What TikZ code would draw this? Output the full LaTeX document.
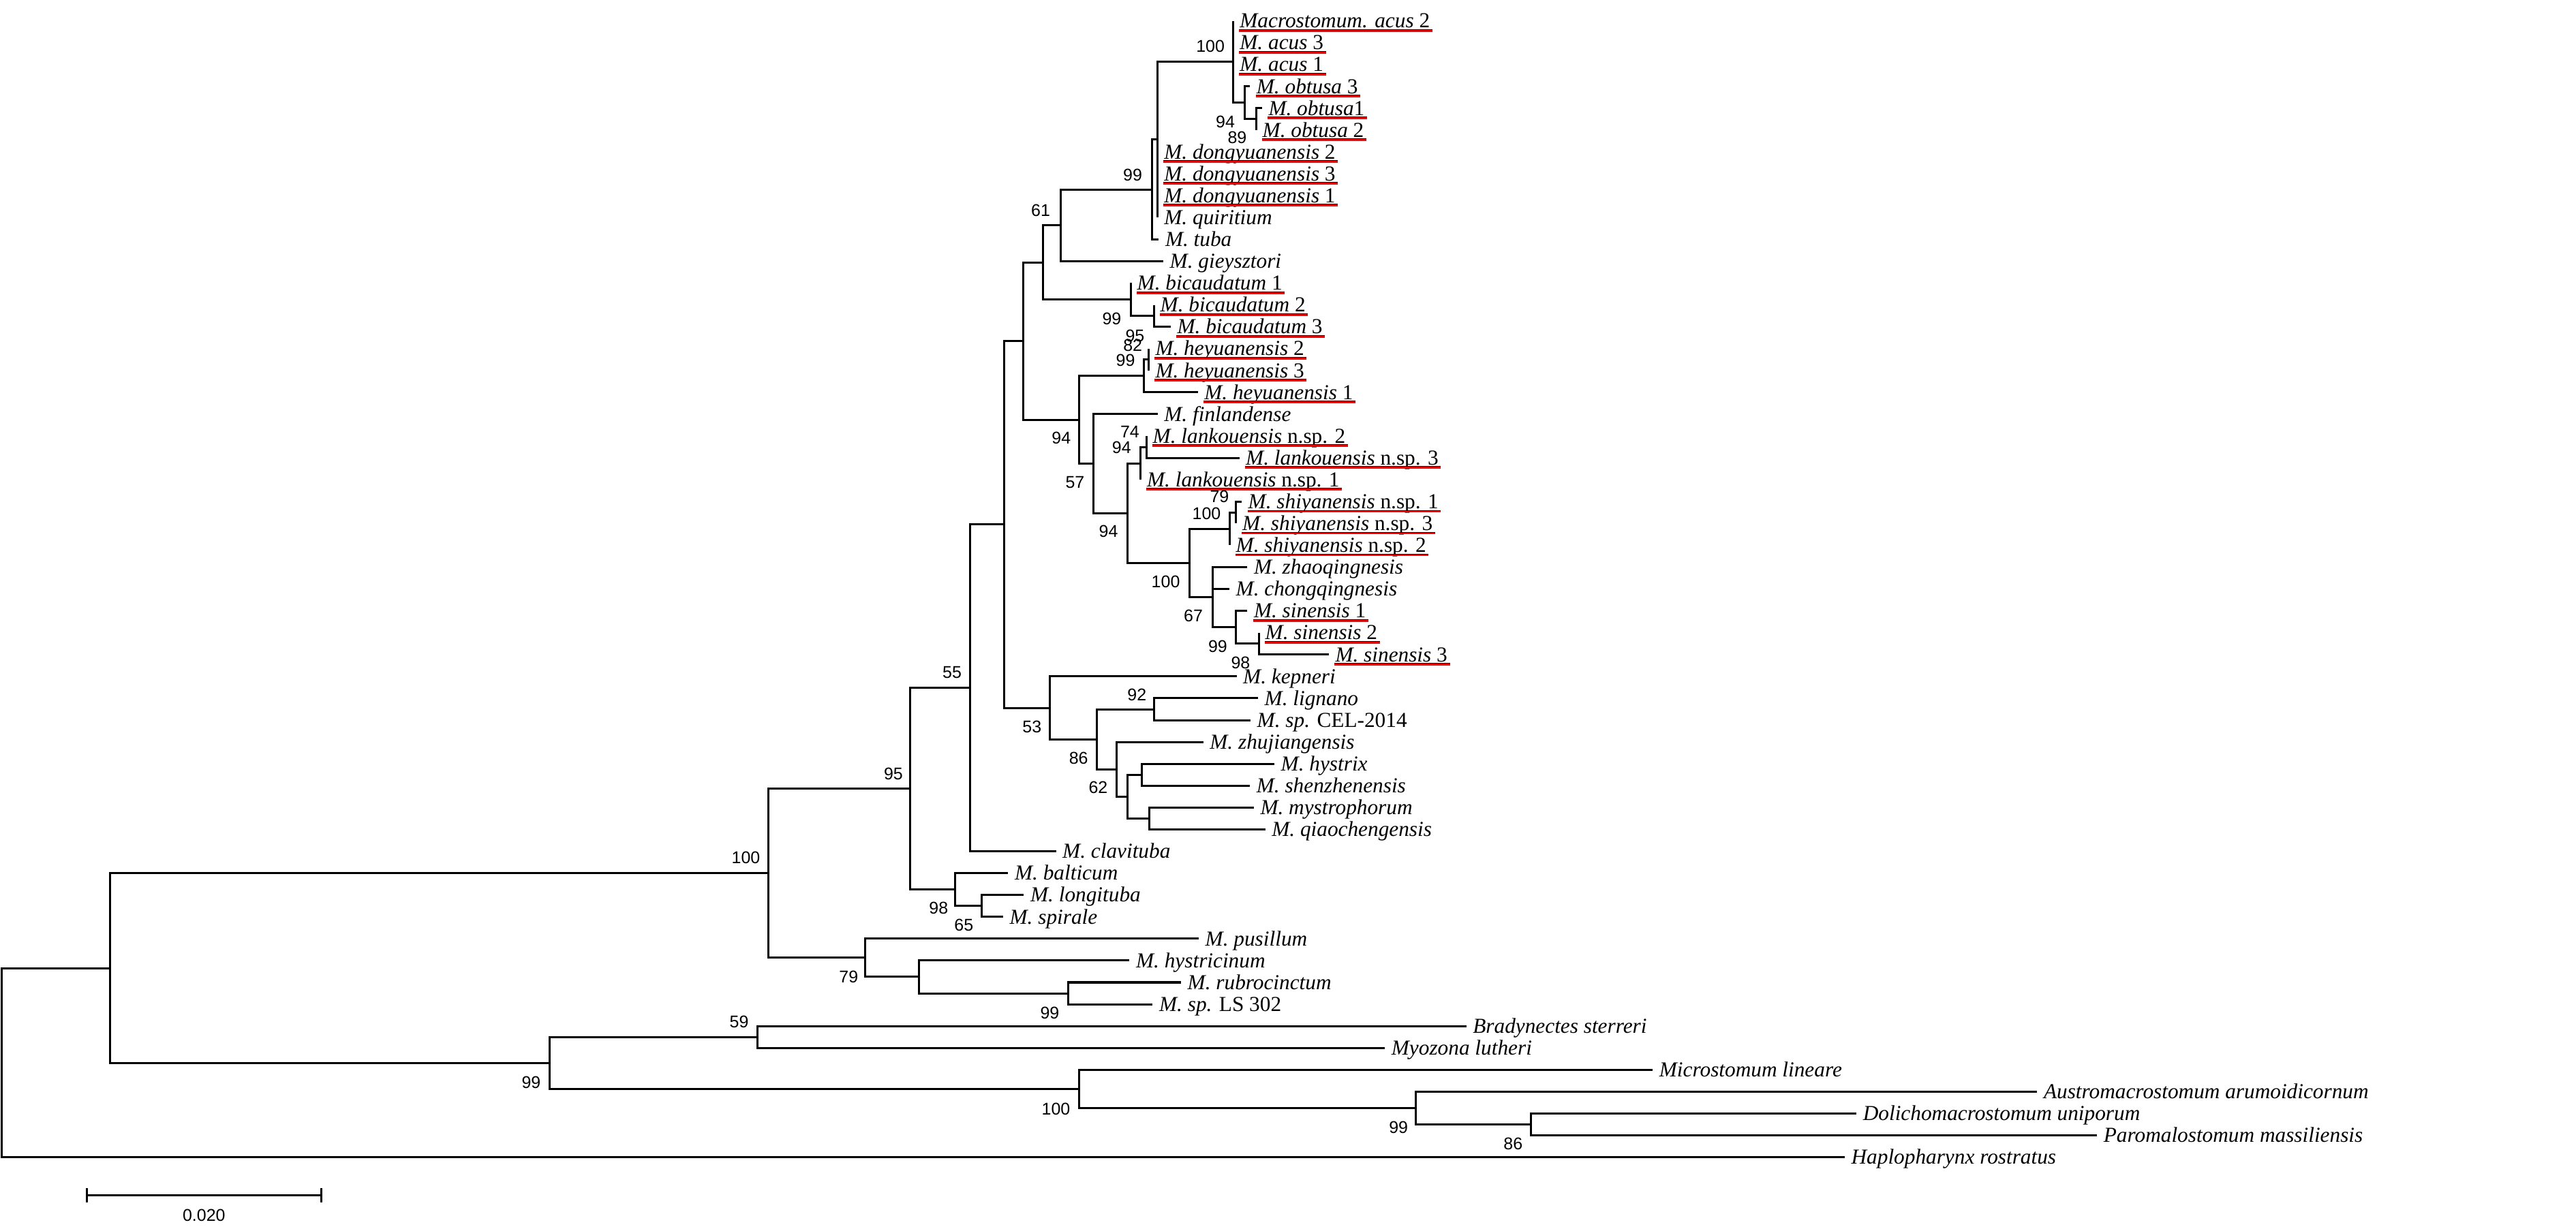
\documentclass[tikz,border=0pt]{standalone}
\usepackage{fontspec}
\setmainfont{Liberation Serif}
\newfontfamily\bsfont{Liberation Sans}
\usetikzlibrary{arrows.meta,positioning}

\begin{document}
\begin{tikzpicture}[
  x=0.01cm, y=-0.3206cm,
  branch/.style={line width=0.03cm},
  taxon/.style={anchor=west, inner xsep=0.09cm, inner ysep=0, text height=0.205cm, text depth=0, font=\fontsize{8.9}{10}\selectfont\itshape},
  bs/.style={inner sep=0, text height=0.18cm, text depth=0, font=\bsfont\fontsize{7.1}{8}\selectfont},
  redline/.style={draw=red, line width=0.03cm},
  thinline/.style={draw=black, line width=0.01cm},
  scalebar/.style={line width=0.03cm, {Bar[width=0.21cm]}-{Bar[width=0.21cm]}}
]
  \useasboundingbox (0,-0.9513) rectangle (3780,55.256);

  \coordinate (root) at (2.5,47.67);
  \coordinate (nIn) at (161.7,43.347);
  \coordinate (n100) at (1127.5,39.006);
  \coordinate (n95) at (1335.9,35.137);
  \coordinate (n55) at (1423.1,30.52);
  \coordinate (nX) at (1473.2,23.047);
  \coordinate (nUp) at (1501.7,14.657);
  \coordinate (nB) at (1530,11.055);
  \coordinate (n61) at (1556.7,9.359);
  \coordinate (nTuba) at (1690.7,7.719);
  \coordinate (nDong) at (1698.7,5.4375);
  \coordinate (nAcus) at (1809.7,1.875);
  \coordinate (nObt) at (1826.6,3.75);
  \coordinate (nObt12) at (1843,4.5);
  \coordinate (nBic) at (1659,12.75);
  \coordinate (nBic23) at (1693,13.5);
  \coordinate (n94a) at (1583.9,18.258);
  \coordinate (nHey) at (1678.6,16.25);
  \coordinate (nHey23) at (1685.8,15.5);
  \coordinate (n57) at (1604.5,20.266);
  \coordinate (n94b) at (1654.2,22.53);
  \coordinate (nLank) at (1673.4,20.25);
  \coordinate (nLank23) at (1682,19.5);
  \coordinate (nSh) at (1745.1,24.8125);
  \coordinate (nShi2) at (1804,23.25);
  \coordinate (nShi13) at (1813.5,22.5);
  \coordinate (nZc) at (1779,26.375);
  \coordinate (nSin) at (1813.5,27.75);
  \coordinate (nSin23) at (1847,28.5);
  \coordinate (n53) at (1540.9,31.4375);
  \coordinate (n92) at (1693.9,31.5);
  \coordinate (n86) at (1609.3,32.875);
  \coordinate (n62) at (1638,34.25);
  \coordinate (nHs) at (1654.7,35.5);
  \coordinate (nHyst) at (1675.8,34.5);
  \coordinate (nMq) at (1686.8,36.5);
  \coordinate (nBal) at (1401.9,39.75);
  \coordinate (nLs) at (1440.4,40.5);
  \coordinate (n79) at (1269.9,42.875);
  \coordinate (nHr) at (1348.5,43.75);
  \coordinate (nRl) at (1567,44.5);
  \coordinate (nOut) at (806,47.6875);
  \coordinate (n59) at (1111.1,46.5);
  \coordinate (nMic) at (1583.6,48.875);
  \coordinate (nAdp) at (2077.8,49.75);
  \coordinate (nDp) at (2246.9,50.5);

  \node[taxon] (acus2) at (1809.7,0) {Macrostomum. acus \textup{2}};
  \node[taxon] (acus3) at (1809.7,1) {M. acus \textup{3}};
  \node[taxon] (acus1) at (1809.7,2) {M. acus \textup{1}};
  \node[taxon] (obt3) at (1834.2,3) {M. obtusa \textup{3}};
  \node[taxon] (obt1) at (1851.8,4) {M. obtusa\textup{1}};
  \node[taxon] (obt2) at (1843,5) {M. obtusa \textup{2}};
  \node[taxon] (dong2) at (1698.7,6) {M. dongyuanensis \textup{2}};
  \node[taxon] (dong3) at (1698.7,7) {M. dongyuanensis \textup{3}};
  \node[taxon] (dong1) at (1698.7,8) {M. dongyuanensis \textup{1}};
  \node[taxon] (quir) at (1698.7,9) {M. quiritium};
  \node[taxon] (tuba) at (1700.3,10) {M. tuba};
  \node[taxon] (giey) at (1707,11) {M. gieysztori};
  \node[taxon] (bic1) at (1659,12) {M. bicaudatum \textup{1}};
  \node[taxon] (bic2) at (1693,13) {M. bicaudatum \textup{2}};
  \node[taxon] (bic3) at (1717.9,14) {M. bicaudatum \textup{3}};
  \node[taxon] (hey2) at (1685.8,15) {M. heyuanensis \textup{2}};
  \node[taxon] (hey3) at (1685.8,16) {M. heyuanensis \textup{3}};
  \node[taxon] (hey1) at (1757.6,17) {M. heyuanensis \textup{1}};
  \node[taxon] (finl) at (1698.7,18) {M. finlandense};
  \node[taxon] (lank2) at (1682,19) {M. lankouensis \textup{n.sp. 2}};
  \node[taxon] (lank3) at (1818.5,20) {M. lankouensis \textup{n.sp. 3}};
  \node[taxon] (lank1) at (1673.4,21) {M. lankouensis \textup{n.sp. 1}};
  \node[taxon] (shi1) at (1822,22) {M. shiyanensis \textup{n.sp. 1}};
  \node[taxon] (shi3) at (1813.5,23) {M. shiyanensis \textup{n.sp. 3}};
  \node[taxon] (shi2) at (1804,24) {M. shiyanensis \textup{n.sp. 2}};
  \node[taxon] (zhao) at (1830.3,25) {M. zhaoqingnesis};
  \node[taxon] (chong) at (1804,26) {M. chongqingnesis};
  \node[taxon] (sin1) at (1830.3,27) {M. sinensis \textup{1}};
  \node[taxon] (sin2) at (1847,28) {M. sinensis \textup{2}};
  \node[taxon] (sin3) at (1949.8,29) {M. sinensis \textup{3}};
  \node[taxon] (kep) at (1814.5,30) {M. kepneri};
  \node[taxon] (lign) at (1846,31) {M. lignano};
  \node[taxon] (cel) at (1835,32) {M. sp. \textup{CEL-2014}};
  \node[taxon] (zhuj) at (1765.7,33) {M. zhujiangensis};
  \node[taxon] (hystx) at (1870,34) {M. hystrix};
  \node[taxon] (shen) at (1834.1,35) {M. shenzhenensis};
  \node[taxon] (myst) at (1839.8,36) {M. mystrophorum};
  \node[taxon] (qiao) at (1856.6,37) {M. qiaochengensis};
  \node[taxon] (clav) at (1549.5,38) {M. clavituba};
  \node[taxon] (balt) at (1479.4,39) {M. balticum};
  \node[taxon] (long) at (1502.4,40) {M. longituba};
  \node[taxon] (spir) at (1471.9,41) {M. spirale};
  \node[taxon] (pusi) at (1759,42) {M. pusillum};
  \node[taxon] (hysc) at (1657.4,43) {M. hystricinum};
  \node[taxon] (rubr) at (1733,44) {M. rubrocinctum};
  \node[taxon] (ls) at (1691.4,45) {M. sp. \textup{LS 302}};
  \node[taxon] (brad) at (2151.6,46) {Bradynectes sterreri};
  \node[taxon] (myoz) at (2032.2,47) {Myozona lutheri};
  \node[taxon] (micr) at (2425.2,48) {Microstomum lineare};
  \node[taxon] (aust) at (2989.3,49) {Austromacrostomum arumoidicornum};
  \node[taxon] (doli) at (2724.1,50) {Dolichomacrostomum uniporum};
  \node[taxon] (paro) at (3077.1,51) {Paromalostomum massiliensis};
  \node[taxon] (hapl) at (2706.9,52) {Haplopharynx rostratus};

  \draw[branch] (root) |- (nIn) (root) |- (hapl.west);
  \draw[branch] (nIn) |- (n100) (nIn) |- (nOut);
  \draw[branch] (n100) |- (n95) (n100) |- (n79);
  \draw[branch] (n95) |- (n55) (n95) |- (nBal);
  \draw[branch] (n55) |- (nX) (n55) |- (clav.west);
  \draw[branch] (nX) |- (nUp) (nX) |- (n53);
  \draw[branch] (nUp) |- (nB) (nUp) |- (n94a);
  \draw[branch] (nB) |- (n61) (nB) |- (nBic);
  \draw[branch] (n61) |- (nTuba) (n61) |- (giey.west);
  \draw[branch] (nTuba) |- (nDong) (nTuba) |- (tuba.west);
  \draw[branch] (nDong) |- (nAcus) (nDong) |- (dong2.west) (nDong) |- (dong3.west)
    (nDong) |- (dong1.west) (nDong) |- (quir.west);
  \draw[branch] (nAcus) |- (acus2.west) (nAcus) |- (acus3.west) (nAcus) |- (acus1.west)
    (nAcus) |- (nObt);
  \draw[branch] (nObt) |- (obt3.west) (nObt) |- (nObt12);
  \draw[branch] (nObt12) |- (obt1.west) (nObt12) |- (obt2.west);
  \draw[branch] (nBic) |- (bic1.west) (nBic) |- (nBic23);
  \draw[branch] (nBic23) |- (bic2.west) (nBic23) |- (bic3.west);
  \draw[branch] (n94a) |- (nHey) (n94a) |- (n57);
  \draw[branch] (nHey) |- (nHey23) (nHey) |- (hey1.west);
  \draw[branch] (nHey23) |- (hey2.west) (nHey23) |- (hey3.west);
  \draw[branch] (n57) |- (finl.west) (n57) |- (n94b);
  \draw[branch] (n94b) |- (nLank) (n94b) |- (nSh);
  \draw[branch] (nLank) |- (nLank23) (nLank) |- (lank1.west);
  \draw[branch] (nLank23) |- (lank2.west) (nLank23) |- (lank3.west);
  \draw[branch] (nSh) |- (nShi2) (nSh) |- (nZc);
  \draw[branch] (nShi2) |- (nShi13) (nShi2) |- (shi2.west);
  \draw[branch] (nShi13) |- (shi1.west) (nShi13) |- (shi3.west);
  \draw[branch] (nZc) |- (zhao.west) (nZc) |- (chong.west) (nZc) |- (nSin);
  \draw[branch] (nSin) |- (sin1.west) (nSin) |- (nSin23);
  \draw[branch] (nSin23) |- (sin2.west) (nSin23) |- (sin3.west);
  \draw[branch] (n53) |- (kep.west) (n53) |- (n86);
  \draw[branch] (n86) |- (n92) (n86) |- (n62);
  \draw[branch] (n92) |- (lign.west) (n92) |- (cel.west);
  \draw[branch] (n62) |- (zhuj.west) (n62) |- (nHs);
  \draw[branch] (nHs) |- (nHyst) (nHs) |- (nMq);
  \draw[branch] (nHyst) |- (hystx.west) (nHyst) |- (shen.west);
  \draw[branch] (nMq) |- (myst.west) (nMq) |- (qiao.west);
  \draw[branch] (nBal) |- (balt.west) (nBal) |- (nLs);
  \draw[branch] (nLs) |- (long.west) (nLs) |- (spir.west);
  \draw[branch] (n79) |- (pusi.west) (n79) |- (nHr);
  \draw[branch] (nHr) |- (hysc.west) (nHr) |- (nRl);
  \draw[branch] (nRl) |- (rubr.west) (nRl) |- (ls.west);
  \draw[branch] (nOut) |- (n59) (nOut) |- (nMic);
  \draw[branch] (n59) |- (brad.west) (n59) |- (myoz.west);
  \draw[branch] (nMic) |- (micr.west) (nMic) |- (nAdp);
  \draw[branch] (nAdp) |- (aust.west) (nAdp) |- (nDp);
  \draw[branch] (nDp) |- (doli.west) (nDp) |- (paro.west);

  \foreach \n in {acus2,acus3,acus1,obt3,obt1,obt2,dong2,dong3,dong1,bic1,bic2,bic3,
                  hey2,hey3,hey1,lank2,lank3,lank1,shi1,shi3,shi2,sin1,sin2,sin3}{
    \draw[redline] ([xshift=0.085cm,yshift=-0.036cm]\n.south west) -- ([xshift=-0.06cm,yshift=-0.036cm]\n.south east);
    \draw[thinline] ([xshift=0.085cm,yshift=-0.018cm]\n.south west) -- ([xshift=-0.06cm,yshift=-0.018cm]\n.south east);
  }

  \node[bs, above left=0.13cm and 0.12cm of nAcus] (bAcus) {100};
  \node[bs, below left=0.18cm and 0.14cm of nObt] (bObt) {94};
  \node[bs, below left=0.17cm and 0.13cm of nObt12] (bObt12) {89};
  \node[bs, above left=0.12cm and 0.14cm of nTuba] (bTuba) {99};
  \node[bs, above left=0.125cm and 0.15cm of n61] (b61) {61};
  \node[bs, below left=0.18cm and 0.13cm of nBic] (bBic) {99};
  \node[bs, below left=0.19cm and 0.13cm of nBic23] (bBic23) {95};
  \node[bs, above left=0.115cm and 0.09cm of nHey23] (bHey23) {82};
  \node[bs, above left=0.135cm and 0.125cm of nHey] (bHey) {99};
  \node[bs, below left=0.17cm and 0.12cm of n94a] (b94a) {94};
  \node[bs, below left=0.17cm and 0.125cm of n57] (b57) {57};
  \node[bs, below left=0.17cm and 0.13cm of n94b] (b94b) {94};
  \node[bs, above left=0.14cm and 0.13cm of nLank] (bLank) {94};
  \node[bs, above left=0.13cm and 0.095cm of nLank23] (bLank23) {74};
  \node[bs, above left=0.13cm and 0.12cm of nShi2] (bShi2) {100};
  \node[bs, above left=0.14cm and 0.095cm of nShi13] (bShi13) {79};
  \node[bs, below left=0.175cm and 0.13cm of nSh] (bSh) {100};
  \node[bs, below left=0.175cm and 0.133cm of nZc] (bZc) {67};
  \node[bs, below left=0.177cm and 0.12cm of nSin] (bSin) {99};
  \node[bs, below left=0.18cm and 0.12cm of nSin23] (bSin23) {98};
  \node[bs, below left=0.18cm and 0.12cm of n53] (b53) {53};
  \node[bs, below left=0.18cm and 0.12cm of n86] (b86) {86};
  \node[bs, above left=0.12cm and 0.11cm of n92] (b92) {92};
  \node[bs, below left=0.17cm and 0.12cm of n62] (b62) {62};
  \node[bs, above left=0.13cm and 0.115cm of n55] (b55) {55};
  \node[bs, above left=0.12cm and 0.104cm of n95] (b95) {95};
  \node[bs, below left=0.175cm and 0.10cm of nBal] (bBal) {98};
  \node[bs, below left=0.18cm and 0.115cm of nLs] (bLs) {65};
  \node[bs, above left=0.14cm and 0.115cm of n100] (b100) {100};
  \node[bs, below left=0.18cm and 0.10cm of n79] (b79) {79};
  \node[bs, below left=0.19cm and 0.12cm of nRl] (bRl) {99};
  \node[bs, above left=0.125cm and 0.12cm of n59] (b59) {59};
  \node[bs, below left=0.18cm and 0.12cm of nOut] (bOut) {99};
  \node[bs, below left=0.19cm and 0.126cm of nMic] (bMic) {100};
  \node[bs, below left=0.185cm and 0.11cm of nAdp] (bAdp) {99};
  \node[bs, below left=0.185cm and 0.12cm of nDp] (bDp) {86};

  \coordinate (sbL) at (126,53.74);
  \coordinate (sbR) at (472.6,53.74);
  \draw[scalebar] (sbL) -- (sbR) node[bs, midway, below=0.185cm] (sbLab) {0.020};
\end{tikzpicture}
\end{document}
